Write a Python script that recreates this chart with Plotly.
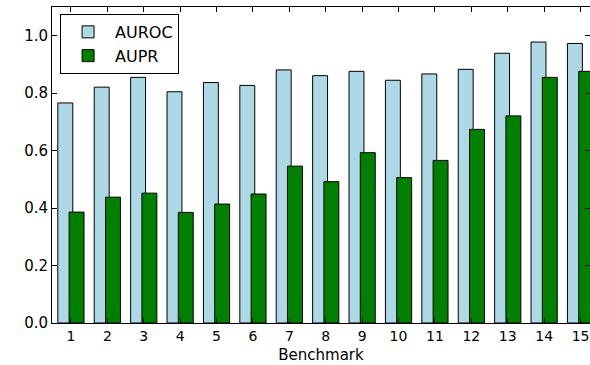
import plotly.graph_objects as go

benchmarks = list(range(1, 16))
auroc = [0.766, 0.821, 0.855, 0.805, 0.837, 0.827, 0.881, 0.861, 0.876, 0.845, 0.867, 0.883, 0.939, 0.978, 0.973]
aupr = [0.386, 0.438, 0.452, 0.385, 0.414, 0.449, 0.546, 0.492, 0.593, 0.506, 0.566, 0.674, 0.721, 0.855, 0.876]

bar_w = 0.41
off = 0.155

fig = go.Figure()
fig.add_trace(go.Bar(
    x=[b - off for b in benchmarks], y=auroc, width=bar_w, name="AUROC",
    marker=dict(color="#add8e6", line=dict(color="black", width=1)),
))
fig.add_trace(go.Bar(
    x=[b + off for b in benchmarks], y=aupr, width=bar_w, name="AUPR",
    marker=dict(color="#008000", line=dict(color="black", width=1)),
))

font = "DejaVu Sans"
fig.update_layout(
    width=590, height=365,
    margin=dict(l=52, r=0, t=7, b=42),
    barmode="overlay",
    plot_bgcolor="white", paper_bgcolor="white",
    font=dict(family=font, size=14, color="black"),
    showlegend=True,
    legend=dict(x=0.015, y=0.978, xanchor="left", yanchor="top",
                bordercolor="black", borderwidth=1, bgcolor="white",
                font=dict(size=16, family=font), itemwidth=44, tracegroupgap=0),
)
fig.update_xaxes(
    range=[0.48, 15.26], tickmode="array", tickvals=benchmarks,
    ticktext=[str(b) for b in benchmarks],
    ticks="inside", ticklen=5, tickcolor="black", automargin=False,
    tickfont=dict(size=14),
    showline=True, linecolor="black", linewidth=1, mirror="allticks",
    showgrid=False, zeroline=False,
    title=dict(text="Benchmark", font=dict(size=15), standoff=6),
)
fig.update_yaxes(
    range=[0, 1.1], tickvals=[0, 0.2, 0.4, 0.6, 0.8, 1.0],
    ticktext=["0.0", "0.2", "0.4", "0.6", "0.8", "1.0"],
    ticks="inside", ticklen=5, tickcolor="black", automargin=False,
    tickfont=dict(size=15),
    showline=True, linecolor="black", linewidth=1, mirror="allticks",
    showgrid=False, zeroline=False,
)
fig.write_html(
    "out.html",
    config={"displayModeBar": False},
    post_script="document.body.style.margin='0';document.body.style.overflow='hidden';",
)
